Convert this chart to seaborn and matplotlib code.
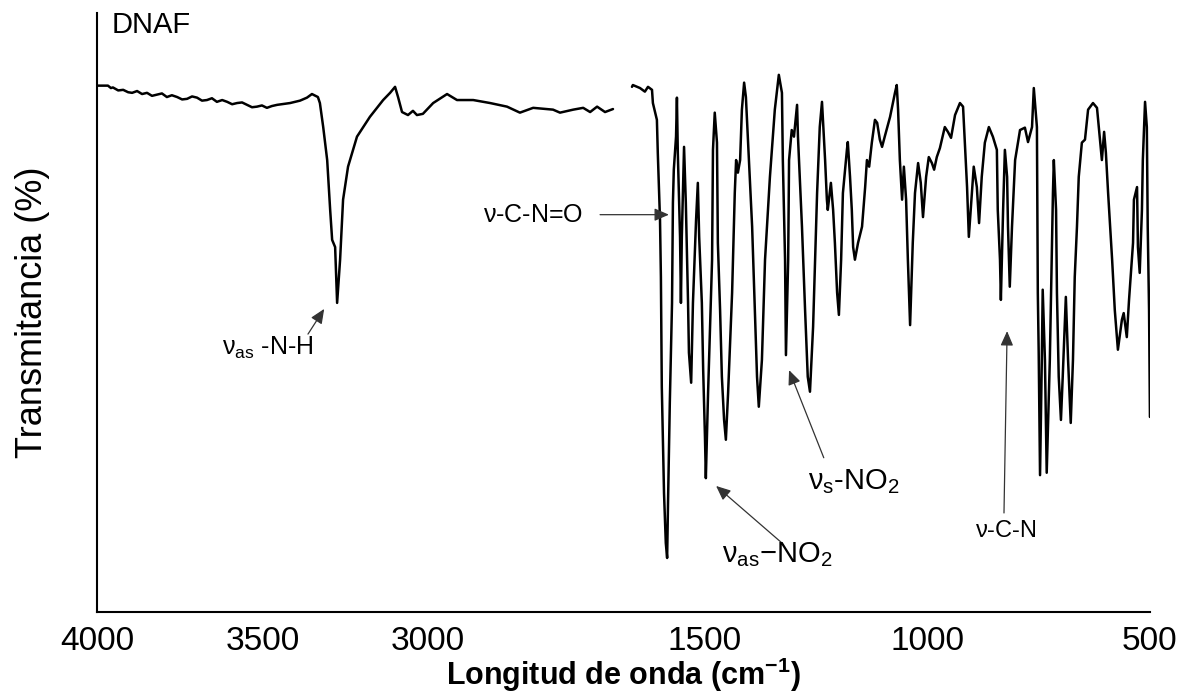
import numpy as np
import pandas as pd
import matplotlib
matplotlib.use("Agg")
import matplotlib.pyplot as plt
import seaborn as sns

# --- IR spectrum of DNAF: high-wavenumber window (4000-2442 cm-1) ---
wn_high = [4000, 3967, 3958, 3952, 3936, 3921, 3906, 3894, 3879, 3864,
           3849, 3834, 3819, 3804, 3789, 3774, 3758, 3743, 3728, 3713,
           3698, 3683, 3668, 3653, 3638, 3622, 3607, 3592, 3577, 3562,
           3547, 3532, 3517, 3502, 3487, 3472, 3456, 3417, 3387, 3366,
           3351, 3333, 3327, 3317, 3305, 3296, 3290, 3281, 3275, 3266,
           3257, 3242, 3215, 3176, 3136, 3115, 3100, 3091, 3079, 3061,
           3046, 3034, 3016, 2985, 2943, 2913, 2864, 2813, 2762, 2723,
           2683, 2623, 2602, 2562, 2532, 2511, 2490, 2466, 2442]
t_high = [87.7, 87.7, 87.3, 87.4, 86.9, 87.0, 86.6, 86.5, 86.8, 86.3,
          86.5, 86.0, 86.2, 86.4, 85.8, 86.1, 85.8, 85.4, 85.5, 85.9,
          85.7, 85.2, 85.3, 85.6, 85.0, 85.3, 85.0, 84.6, 84.8, 84.9,
          84.5, 84.1, 84.2, 84.4, 84.0, 84.3, 84.5, 84.8, 85.2, 85.7,
          86.3, 85.8, 84.8, 80.8, 75.3, 67.0, 62.0, 60.8, 51.5, 58.7,
          68.7, 74.2, 79.2, 82.5, 85.3, 86.5, 87.5, 85.8, 83.3, 82.8,
          83.5, 82.8, 83.0, 84.8, 86.3, 85.3, 85.3, 84.8, 84.2, 83.2,
          84.0, 83.7, 83.2, 83.7, 84.0, 83.3, 84.2, 83.3, 83.8]

# --- fingerprint window (1664-500 cm-1) ---
wn_fp = [1664, 1662, 1646, 1635, 1628, 1619, 1617, 1608, 1606, 1601,
         1599, 1597, 1592, 1588, 1585, 1583, 1579, 1574, 1572, 1570,
         1565, 1563, 1561, 1556, 1554, 1552, 1547, 1543, 1538, 1536,
         1531, 1527, 1520, 1516, 1513, 1507, 1504, 1500, 1498, 1493,
         1484, 1482, 1478, 1473, 1471, 1466, 1462, 1457, 1453, 1448,
         1439, 1433, 1430, 1426, 1421, 1417, 1412, 1408, 1403, 1394,
         1388, 1383, 1379, 1372, 1365, 1354, 1343, 1334, 1327, 1325,
         1320, 1318, 1313, 1311, 1305, 1300, 1293, 1291, 1282, 1275,
         1269, 1264, 1257, 1248, 1242, 1237, 1230, 1226, 1224, 1217,
         1212, 1208, 1203, 1199, 1194, 1190, 1181, 1179, 1174, 1170,
         1167, 1163, 1156, 1147, 1140, 1136, 1131, 1125, 1118, 1113,
         1107, 1102, 1096, 1084, 1073, 1069, 1066, 1062, 1057, 1053,
         1048, 1044, 1039, 1033, 1028, 1021, 1015, 1010, 1003, 997,
         990, 985, 979, 972, 961, 954, 947, 938, 927, 920,
         916, 911, 907, 900, 896, 889, 884, 878, 871, 862,
         853, 844, 842, 837, 835, 830, 826, 821, 819, 815,
         810, 803, 792, 781, 774, 765, 761, 754, 752, 750,
         747, 743, 741, 736, 732, 725, 718, 716, 711, 709,
         705, 700, 696, 689, 684, 678, 673, 669, 664, 660,
         653, 646, 639, 628, 619, 615, 608, 603, 599, 594,
         585, 579, 572, 563, 559, 552, 547, 538, 536, 529,
         527, 523, 518, 516, 511, 507, 505, 502, 500]
t_fp = [87.5, 87.8, 87.3, 86.7, 87.5, 87.0, 84.8, 82.0, 76.5, 65.3,
        55.8, 37.5, 19.8, 11.5, 9.0, 18.2, 34.8, 51.5, 68.2, 73.7,
        79.2, 85.7, 76.5, 62.5, 51.5, 62.5, 77.5, 68.2, 51.5, 43.2,
        38.2, 51.5, 65.3, 71.5, 62.5, 51.5, 40.3, 29.2, 22.3, 36.5,
        58.7, 77.0, 83.2, 78.2, 61.5, 50.3, 39.2, 32.0, 28.7, 36.5,
        53.2, 69.8, 75.3, 73.2, 75.3, 83.7, 88.2, 85.8, 78.2, 64.2,
        50.3, 39.2, 34.2, 42.0, 58.7, 72.5, 83.7, 89.5, 86.5, 75.3,
        58.7, 42.8, 58.7, 75.3, 80.3, 79.2, 84.5, 79.2, 64.2, 50.3,
        39.2, 36.7, 47.5, 69.8, 80.8, 85.0, 75.3, 68.7, 67.0, 71.5,
        67.0, 61.5, 53.2, 49.5, 58.7, 69.8, 77.0, 78.3, 72.5, 67.0,
        60.8, 58.7, 61.5, 64.2, 70.8, 75.3, 74.2, 78.2, 82.0, 81.5,
        78.7, 77.5, 79.2, 82.5, 86.5, 87.8, 83.7, 75.3, 68.7, 74.2,
        68.7, 58.7, 47.8, 61.5, 69.8, 74.8, 71.5, 65.8, 72.5, 75.8,
        74.8, 73.7, 75.8, 77.3, 80.8, 80.0, 79.0, 82.8, 84.8, 84.2,
        78.2, 70.8, 62.5, 69.8, 74.2, 70.8, 64.8, 72.5, 78.2, 80.8,
        79.2, 77.0, 67.0, 58.7, 52.0, 67.0, 77.0, 72.5, 64.2, 54.2,
        64.2, 75.3, 80.3, 80.7, 78.3, 80.8, 87.3, 80.8, 53.2, 43.2,
        22.8, 42.0, 53.7, 42.0, 23.2, 42.0, 69.8, 75.3, 67.0, 53.2,
        39.2, 32.0, 39.2, 52.5, 42.0, 31.5, 42.0, 55.8, 64.2, 72.5,
        78.2, 78.7, 83.7, 84.8, 84.0, 80.8, 75.3, 80.0, 76.5, 69.8,
        58.7, 50.3, 43.7, 48.7, 49.8, 45.8, 52.0, 61.5, 68.7, 70.8,
        60.8, 56.5, 67.0, 75.3, 85.0, 80.8, 64.2, 50.3, 32.5]

tick_values = [4000, 3500, 3000, 1500, 1000, 500]
tick_labels = ["4000", "3500", "3000", "1500", "1000", "500"]

# band assignments: (label, arrow tip (wn, T), arrow tail (wn, T), text anchor (wn, T), ha)
bands = [
    (r"$\mathregular{\nu_{as}}$ -N-H", (3314, 50.5), (3363, 46.3), (3622, 44.0), "left"),
    (r"$\mathregular{\nu}$-C-N=O", (1581, 66.2), (2481, 66.2), (2532, 66.2), "right"),
    (r"$\mathregular{\nu_{as}{-}NO_2}$", (1475, 21.0), (1327, 11.5), (1462, 9.5), "left"),
    (r"$\mathregular{\nu_{s}\text{-}NO_2}$", (1311, 40.3), (1233, 25.7), (1269, 21.7), "left"),
    (r"$\mathregular{\nu}$-C-N", (821, 46.8), (828, 16.5), (824, 13.5), "center"),
]
band_sizes = [18, 18, 21, 21, 17]

sns.set_theme(style="white")
plt.rcParams["font.family"] = ["Liberation Sans", "DejaVu Sans"]
plt.rcParams["mathtext.fontset"] = "custom"
plt.rcParams["mathtext.rm"] = "Liberation Sans"
plt.rcParams["mathtext.it"] = "Liberation Sans:italic"
plt.rcParams["mathtext.bf"] = "Liberation Sans:bold"

fig = plt.figure(figsize=(11.86, 6.96), dpi=100)
ax = fig.add_axes([0.0818, 0.1207, 0.8878, 0.8606])

# Broken wavenumber axis: the two windows get their own linear scale,
# joined by a short empty stretch.
knots_w = [min(wn_fp), max(wn_fp), min(wn_high), max(wn_high)]
knots_p = [0.0, 518.0, 537.0, 1053.0]


def fwd(w):
    return np.interp(w, knots_w, knots_p)


def inv(p):
    return np.interp(p, knots_p, knots_w)


ax.set_xscale("function", functions=(fwd, inv))

df_high = pd.DataFrame({"wn": wn_high, "T": t_high})
df_fp = pd.DataFrame({"wn": wn_fp, "T": t_fp})
for df in (df_high, df_fp):
    sns.lineplot(data=df, x="wn", y="T", sort=False, estimator=None,
                 color="black", linewidth=1.8, ax=ax)

ax.set_xlim(4000, 500)
ax.set_ylim(0, 99.8)

for side in ("top", "right"):
    ax.spines[side].set_visible(False)
for side in ("left", "bottom"):
    ax.spines[side].set_color("black")
    ax.spines[side].set_linewidth(1.5)

ax.set_yticks([])
ax.set_xticks(tick_values)
ax.set_xticklabels(tick_labels)
ax.tick_params(axis="x", length=0, pad=10, labelsize=24, colors="black")
ax.minorticks_off()

ax.set_xlabel(r"Longitud de onda (cm$^{\mathbf{-1}}$)", fontsize=22,
              fontweight="bold", labelpad=-1, color="black")
ax.set_ylabel("Transmitancia (%)", fontsize=26, labelpad=34, color="black")

ax.text(0.014, 0.98, "DNAF", transform=ax.transAxes, fontsize=21,
        ha="left", va="center", color="black")

for (label, tip, tail, anchor, ha), fs in zip(bands, band_sizes):
    ax.annotate("", xy=tip, xytext=tail,
                arrowprops=dict(arrowstyle="-|>,head_length=0.8,head_width=0.35",
                                mutation_scale=11, color="#333333", lw=0.9,
                                shrinkA=0, shrinkB=0))
    ax.text(anchor[0], anchor[1], label, fontsize=fs, ha=ha, va="center",
            color="black")

fig.savefig("out.png", dpi=100)
